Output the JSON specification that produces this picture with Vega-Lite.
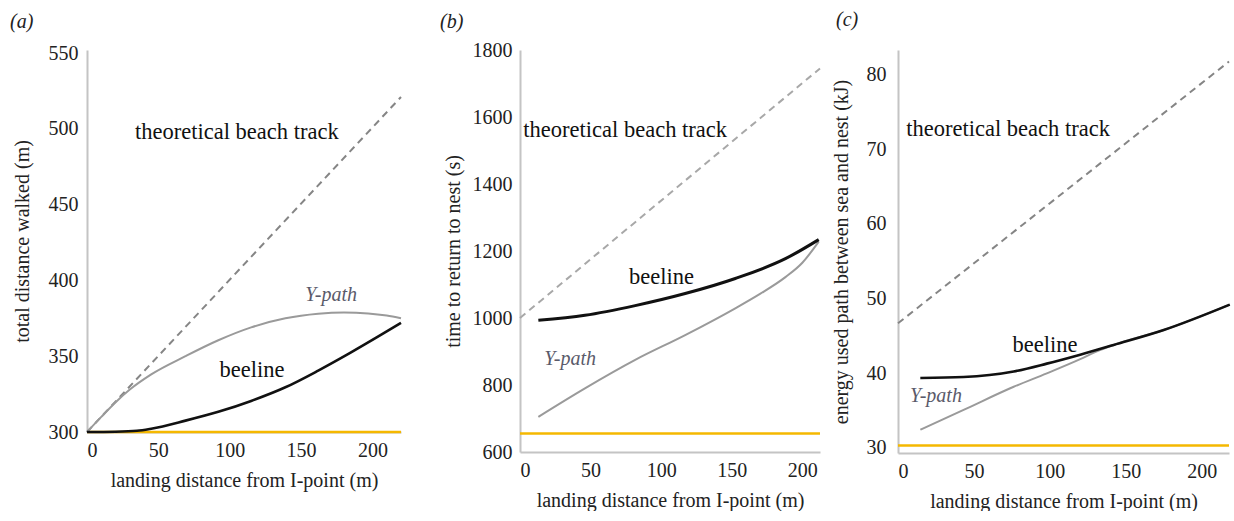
{
  "$schema": "https://vega.github.io/schema/vega-lite/v6.json",
  "padding": {"left": 10, "top": 10, "right": 0, "bottom": 0},
  "background": "white",
  "config": {
    "font": "Liberation Serif, Times New Roman, Tinos, serif",
    "view": {"stroke": null},
    "axis": {"ticks": false, "grid": false, "domainColor": "#c4c4c4", "domainWidth": 2, "labelFont": "Liberation Serif, Times New Roman, Tinos, serif", "labelFontSize": 20, "labelColor": "#222222", "titleFont": "Liberation Serif, Times New Roman, Tinos, serif", "titleFontSize": 20, "titleFontWeight": "normal", "titleColor": "#222222", "format": "d"},
    "title": {"font": "Liberation Serif, Times New Roman, Tinos, serif", "fontSize": 20, "fontStyle": "italic", "fontWeight": "normal", "color": "#222222", "anchor": "start", "frame": "group"}
  },
  "datasets": {
    "a": [
      {"series": "nest", "x": 0, "y": 300}, {"series": "nest", "x": 220, "y": 300},
      {"series": "theory", "x": 0, "y": 300}, {"series": "theory", "x": 220, "y": 521},
      {"series": "ypath", "x": 0, "y": 300}, {"series": "ypath", "x": 10, "y": 310}, {"series": "ypath", "x": 21, "y": 320.5}, {"series": "ypath", "x": 30, "y": 328}, {"series": "ypath", "x": 45, "y": 338}, {"series": "ypath", "x": 69, "y": 350}, {"series": "ypath", "x": 92, "y": 360.5}, {"series": "ypath", "x": 115, "y": 369}, {"series": "ypath", "x": 139, "y": 375}, {"series": "ypath", "x": 162, "y": 378}, {"series": "ypath", "x": 180, "y": 378.8}, {"series": "ypath", "x": 197, "y": 378.2}, {"series": "ypath", "x": 210, "y": 376.8}, {"series": "ypath", "x": 220, "y": 375},
      {"series": "beeline", "x": 0, "y": 300}, {"series": "beeline", "x": 20, "y": 300.2}, {"series": "beeline", "x": 35, "y": 300.8}, {"series": "beeline", "x": 45, "y": 302.2}, {"series": "beeline", "x": 69, "y": 307.5}, {"series": "beeline", "x": 92, "y": 313.3}, {"series": "beeline", "x": 115, "y": 320.5}, {"series": "beeline", "x": 139, "y": 329.5}, {"series": "beeline", "x": 162, "y": 340.5}, {"series": "beeline", "x": 185, "y": 352.5}, {"series": "beeline", "x": 205, "y": 363.5}, {"series": "beeline", "x": 220, "y": 372}
    ],
    "aText": [
      {"label": "theoretical beach track", "kind": "main", "x": 105, "y": 498},
      {"label": "beeline", "kind": "main", "x": 115.6, "y": 341},
      {"label": "Y-path", "kind": "y", "x": 171, "y": 390.5}
    ],
    "b": [
      {"series": "nest", "x": 0, "y": 655}, {"series": "nest", "x": 212.5, "y": 655},
      {"series": "theory", "x": 0, "y": 1000}, {"series": "theory", "x": 212.5, "y": 1745},
      {"series": "ypath", "x": 13, "y": 705}, {"series": "ypath", "x": 46, "y": 790}, {"series": "ypath", "x": 81.6, "y": 875}, {"series": "ypath", "x": 117, "y": 949}, {"series": "ypath", "x": 152.5, "y": 1029}, {"series": "ypath", "x": 170, "y": 1072}, {"series": "ypath", "x": 188, "y": 1122}, {"series": "ypath", "x": 200, "y": 1165}, {"series": "ypath", "x": 211.6, "y": 1228},
      {"series": "beeline", "x": 13, "y": 993}, {"series": "beeline", "x": 46, "y": 1008}, {"series": "beeline", "x": 81.6, "y": 1037}, {"series": "beeline", "x": 117, "y": 1073}, {"series": "beeline", "x": 152.5, "y": 1118}, {"series": "beeline", "x": 188, "y": 1177}, {"series": "beeline", "x": 211.6, "y": 1234}
    ],
    "bText": [
      {"label": "theoretical beach track", "kind": "main", "x": 74.5, "y": 1561},
      {"label": "beeline", "kind": "main", "x": 100.2, "y": 1123},
      {"label": "Y-path", "kind": "y", "x": 35.5, "y": 877}
    ],
    "c": [
      {"series": "nest", "x": 0, "y": 30.35}, {"series": "nest", "x": 218, "y": 30.35},
      {"series": "theory", "x": 0, "y": 46.7}, {"series": "theory", "x": 218, "y": 81.75},
      {"series": "ypath", "x": 14.7, "y": 32.45}, {"series": "ypath", "x": 43.2, "y": 35.1}, {"series": "ypath", "x": 76.2, "y": 38.2}, {"series": "ypath", "x": 98, "y": 40.0}, {"series": "ypath", "x": 120, "y": 41.9}, {"series": "ypath", "x": 131, "y": 42.95}, {"series": "ypath", "x": 142, "y": 43.8}, {"series": "ypath", "x": 175, "y": 45.8}, {"series": "ypath", "x": 218.5, "y": 49.2},
      {"series": "beeline", "x": 14.7, "y": 39.37}, {"series": "beeline", "x": 43.2, "y": 39.5}, {"series": "beeline", "x": 76.2, "y": 40.25}, {"series": "beeline", "x": 98, "y": 41.3}, {"series": "beeline", "x": 120, "y": 42.5}, {"series": "beeline", "x": 142, "y": 43.8}, {"series": "beeline", "x": 175, "y": 45.8}, {"series": "beeline", "x": 218.5, "y": 49.2}
    ],
    "cText": [
      {"label": "theoretical beach track", "kind": "main", "x": 72.5, "y": 72.7},
      {"label": "beeline", "kind": "main", "x": 96.8, "y": 43.8},
      {"label": "Y-path", "kind": "y", "x": 25, "y": 37}
    ]
  },
  "spacing": 6,
  "hconcat": [
    {
      "spacing": 33,
      "hconcat": [
        {
          "width": 314, "height": 382,
          "title": {"text": "(a)", "dx": -77, "offset": 11},
          "layer": [
            {"data": {"name": "a"}, "transform": [{"filter": "datum.series === 'nest'"}], "mark": {"type": "line", "color": "#f5b800", "strokeWidth": 2.5},
             "encoding": {"x": {"field": "x", "type": "quantitative", "scale": {"domain": [0, 220], "nice": false}, "axis": {"values": [0, 50, 100, 150, 200], "labelPadding": 8, "titlePadding": 10}, "title": "landing distance from I-point (m)"},
                          "y": {"field": "y", "type": "quantitative", "scale": {"domain": [300, 552], "nice": false, "zero": false}, "axis": {"values": [300, 350, 400, 450, 500, 550], "labelPadding": 9, "titlePadding": 16}, "title": "total distance walked (m)"}}},
            {"data": {"name": "a"}, "transform": [{"filter": "datum.series === 'theory'"}], "mark": {"type": "line", "color": "#858585", "strokeWidth": 2, "strokeDash": [7, 5]}, "encoding": {"x": {"field": "x", "type": "quantitative"}, "y": {"field": "y", "type": "quantitative"}}},
            {"data": {"name": "a"}, "transform": [{"filter": "datum.series === 'ypath'"}], "mark": {"type": "line", "color": "#9a9a9a", "strokeWidth": 2, "interpolate": "monotone"}, "encoding": {"x": {"field": "x", "type": "quantitative"}, "y": {"field": "y", "type": "quantitative"}}},
            {"data": {"name": "a"}, "transform": [{"filter": "datum.series === 'beeline'"}], "mark": {"type": "line", "color": "#111111", "strokeWidth": 2.6, "interpolate": "monotone"}, "encoding": {"x": {"field": "x", "type": "quantitative"}, "y": {"field": "y", "type": "quantitative"}}},
            {"data": {"name": "aText"}, "transform": [{"filter": "datum.kind === 'main'"}], "mark": {"type": "text", "font": "Liberation Serif, Times New Roman, Tinos, serif", "fontSize": 22.5, "color": "#111111", "baseline": "middle"}, "encoding": {"x": {"field": "x", "type": "quantitative"}, "y": {"field": "y", "type": "quantitative"}, "text": {"field": "label"}}},
            {"data": {"name": "aText"}, "transform": [{"filter": "datum.kind === 'y'"}], "mark": {"type": "text", "font": "Liberation Serif, Times New Roman, Tinos, serif", "fontSize": 20, "fontStyle": "italic", "color": "#5a5a6a", "baseline": "middle"}, "encoding": {"x": {"field": "x", "type": "quantitative"}, "y": {"field": "y", "type": "quantitative"}, "text": {"field": "label"}}}
          ]
        },
        {
          "width": 300, "height": 402,
          "title": {"text": "(b)", "dx": -80, "offset": 8},
          "layer": [
            {"data": {"name": "b"}, "transform": [{"filter": "datum.series === 'nest'"}], "mark": {"type": "line", "color": "#f5b800", "strokeWidth": 2.5},
             "encoding": {"x": {"field": "x", "type": "quantitative", "scale": {"domain": [0, 212.5], "nice": false}, "axis": {"values": [0, 50, 100, 150, 200], "labelPadding": 8, "titlePadding": 10}, "title": "landing distance from I-point (m)"},
                          "y": {"field": "y", "type": "quantitative", "scale": {"domain": [600, 1800], "nice": false, "zero": false}, "axis": {"values": [600, 800, 1000, 1200, 1400, 1600, 1800], "labelPadding": 8, "titlePadding": 9}, "title": "time to return to nest (s)"}}},
            {"data": {"name": "b"}, "transform": [{"filter": "datum.series === 'theory'"}], "mark": {"type": "line", "color": "#a8a8a8", "strokeWidth": 2, "strokeDash": [7, 5]}, "encoding": {"x": {"field": "x", "type": "quantitative"}, "y": {"field": "y", "type": "quantitative"}}},
            {"data": {"name": "b"}, "transform": [{"filter": "datum.series === 'ypath'"}], "mark": {"type": "line", "color": "#9a9a9a", "strokeWidth": 2, "interpolate": "monotone"}, "encoding": {"x": {"field": "x", "type": "quantitative"}, "y": {"field": "y", "type": "quantitative"}}},
            {"data": {"name": "b"}, "transform": [{"filter": "datum.series === 'beeline'"}], "mark": {"type": "line", "color": "#111111", "strokeWidth": 3, "interpolate": "monotone"}, "encoding": {"x": {"field": "x", "type": "quantitative"}, "y": {"field": "y", "type": "quantitative"}}},
            {"data": {"name": "bText"}, "transform": [{"filter": "datum.kind === 'main'"}], "mark": {"type": "text", "font": "Liberation Serif, Times New Roman, Tinos, serif", "fontSize": 22.5, "color": "#111111", "baseline": "middle"}, "encoding": {"x": {"field": "x", "type": "quantitative"}, "y": {"field": "y", "type": "quantitative"}, "text": {"field": "label"}}},
            {"data": {"name": "bText"}, "transform": [{"filter": "datum.kind === 'y'"}], "mark": {"type": "text", "font": "Liberation Serif, Times New Roman, Tinos, serif", "fontSize": 20, "fontStyle": "italic", "color": "#5a5a6a", "baseline": "middle"}, "encoding": {"x": {"field": "x", "type": "quantitative"}, "y": {"field": "y", "type": "quantitative"}, "text": {"field": "label"}}}
          ]
        }
      ]
    },
    {
      "width": 331, "height": 403,
      "title": {"text": "(c)", "dx": -62, "offset": 20},
      "layer": [
        {"data": {"name": "c"}, "transform": [{"filter": "datum.series === 'nest'"}], "mark": {"type": "line", "color": "#f5b800", "strokeWidth": 2.5},
         "encoding": {"x": {"field": "x", "type": "quantitative", "scale": {"domain": [0, 218], "nice": false}, "axis": {"values": [0, 50, 100, 150, 200], "labelPadding": 8, "titlePadding": 10}, "title": "landing distance from I-point (m)"},
                      "y": {"field": "y", "type": "quantitative", "scale": {"domain": [29.33, 83.3], "nice": false, "zero": false}, "axis": {"values": [30, 40, 50, 60, 70, 80], "labelPadding": 12, "titlePadding": 15}, "title": "energy used path between sea and nest (kJ)"}}},
        {"data": {"name": "c"}, "transform": [{"filter": "datum.series === 'theory'"}], "mark": {"type": "line", "color": "#858585", "strokeWidth": 2, "strokeDash": [7, 5]}, "encoding": {"x": {"field": "x", "type": "quantitative"}, "y": {"field": "y", "type": "quantitative"}}},
        {"data": {"name": "c"}, "transform": [{"filter": "datum.series === 'ypath'"}], "mark": {"type": "line", "color": "#9a9a9a", "strokeWidth": 2, "interpolate": "monotone"}, "encoding": {"x": {"field": "x", "type": "quantitative"}, "y": {"field": "y", "type": "quantitative"}}},
        {"data": {"name": "c"}, "transform": [{"filter": "datum.series === 'beeline'"}], "mark": {"type": "line", "color": "#111111", "strokeWidth": 2.6, "interpolate": "monotone"}, "encoding": {"x": {"field": "x", "type": "quantitative"}, "y": {"field": "y", "type": "quantitative"}}},
        {"data": {"name": "cText"}, "transform": [{"filter": "datum.kind === 'main'"}], "mark": {"type": "text", "font": "Liberation Serif, Times New Roman, Tinos, serif", "fontSize": 22.5, "color": "#111111", "baseline": "middle"}, "encoding": {"x": {"field": "x", "type": "quantitative"}, "y": {"field": "y", "type": "quantitative"}, "text": {"field": "label"}}},
        {"data": {"name": "cText"}, "transform": [{"filter": "datum.kind === 'y'"}], "mark": {"type": "text", "font": "Liberation Serif, Times New Roman, Tinos, serif", "fontSize": 20, "fontStyle": "italic", "color": "#5a5a6a", "baseline": "middle"}, "encoding": {"x": {"field": "x", "type": "quantitative"}, "y": {"field": "y", "type": "quantitative"}, "text": {"field": "label"}}}
      ]
    }
  ]
}
